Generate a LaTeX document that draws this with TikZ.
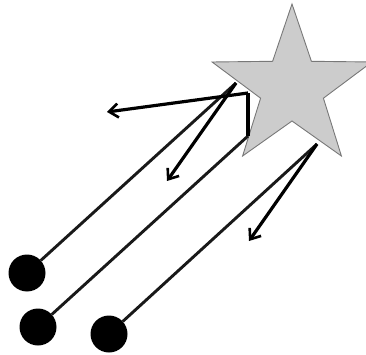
\documentclass[tikz,border=0pt]{standalone}
\usetikzlibrary{arrows.meta}
\definecolor{starfill}{RGB}{204,204,204}
\definecolor{starline}{RGB}{120,120,120}
\definecolor{wire}{RGB}{25,25,25}
\begin{document}
\begin{tikzpicture}[x=1pt,y=-1pt,
  dot/.style={circle,fill=black,minimum size=37pt,inner sep=0pt},
  wireline/.style={draw=wire,line width=2.9pt},
  arrowline/.style={draw=black,line width=3.2pt,-{Straight Barb[length=9pt,width=14pt,line width=2.6pt]}},
  thickbar/.style={draw=black,line width=4.5pt},
  starshape/.style={fill=starfill,draw=starline,line width=0.9pt,line join=miter}]
\useasboundingbox (0,0) rectangle (366,355);
% star
\path[starshape] (292,4) -- (311.4,61.3) -- (371.9,62) -- (323.4,98.2) -- (341.4,156)
  -- (292,121) -- (242.6,156) -- (260.6,98.2) -- (212.1,62) -- (272.6,61.3) -- cycle;
% connection points
\coordinate (A) at (236,83);
\coordinate (B1) at (248,136);
\coordinate (B2) at (248,93);
\coordinate (C) at (317,144);
\coordinate (tA1) at (107,112);
\coordinate (tA2) at (167,181);
\coordinate (tC) at (249,241);
% dots
\node[dot] (d1) at (27,273) {};
\node[dot] (d2) at (38,327) {};
\node[dot] (d3) at (109,334) {};
% wires
\draw[wireline] (d1) -- (A);
\draw[wireline] (d2) -- (B1);
\draw[wireline] (d3) -- (C);
\draw[thickbar] (B1) -- (B2);
% arrows
\draw[arrowline] (B2) -- (tA1);
\draw[arrowline] (A) -- (tA2);
\draw[arrowline] (C) -- (tC);
\end{tikzpicture}
\end{document}
